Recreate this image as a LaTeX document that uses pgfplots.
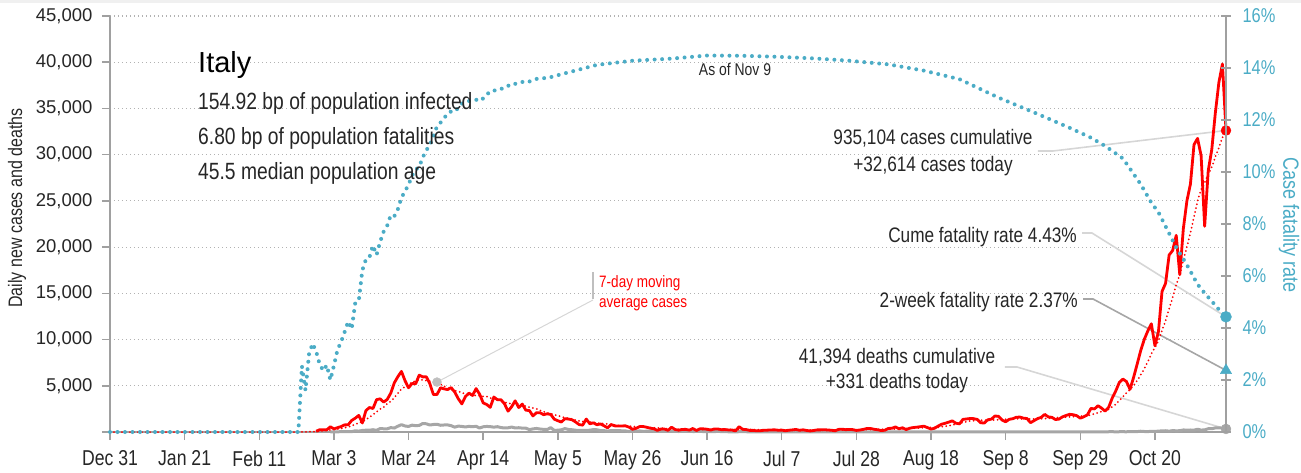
\documentclass[border=0pt]{standalone}
\usepackage{fontspec}
\setmainfont{Liberation Sans}[FakeStretch=0.82]
\newfontfamily\wideface{Liberation Sans}
\usepackage{pgfplots}
\pgfplotsset{compat=1.18}
\definecolor{cfrblue}{HTML}{4BACC6}
\definecolor{axgray}{HTML}{A0A0A0}
\definecolor{dgray}{HTML}{A6A6A6}
\definecolor{lgray}{HTML}{D6D6D6}
\definecolor{txt}{HTML}{262626}
\newcommand{\fs}[1]{\fontsize{#1}{#1}\selectfont}
\begin{document}
\begin{tikzpicture}[x=1pt,y=1pt]
\path[use as bounding box] (-110,-40) rectangle (1191,432);
\fill[black!6] (-110,429) rectangle (1191,432);
\begin{axis}[
  at={(0,0)}, anchor=south west,
  scale only axis, width=1116pt, height=416pt,
  xmin=0, xmax=314, ymin=0, ymax=45000,
  scaled y ticks=false, scaled x ticks=false,
  axis x line*=bottom, axis y line*=left,
  axis line style={-, axgray, line width=2pt},
  xtick={0,21,...,294},
  xticklabels={Dec 31,Jan 21,Feb 11,Mar 3,Mar 24,Apr 14,May 5,May 26,Jun 16,Jul 7,Jul 28,Aug 18,Sep 8,Sep 29,Oct 20},
  ytick={0,5000,...,45000},
  yticklabels={{},{5,000},{10,000},{15,000},{20,000},{25,000},{30,000},{35,000},{40,000},{45,000}},
  tick align=outside,
  major tick length=8pt,
  tick style={axgray, line width=1.5pt},
  ymajorgrids,
  grid style={black!30, line width=1.2pt, dash pattern=on 1.2pt off 2.8pt},
  xticklabel style={font=\fs{21.5}, text=txt, yshift=-7pt},
  yticklabel style={font=\wideface\fs{18.5}, text=txt, xshift=-6pt},
  clip=false,
]
% leader lines
\draw[lgray, line width=1.6pt] (axis cs:261.1,30397) -- (axis cs:265.3,30397) -- (axis cs:314,32614);
\draw[lgray, line width=1.6pt] (axis cs:273.5,21526) -- (axis cs:276.3,21526) -- (axis cs:314,12459);
\draw[dgray, line width=1.6pt] (axis cs:273.8,14387) -- (axis cs:276.6,14387) -- (axis cs:314,6666);
\draw[lgray, line width=1.6pt] (axis cs:251.8,7031) -- (axis cs:255.2,7031) -- (axis cs:314,331);
\draw[lgray, line width=1pt] (axis cs:92,5400) -- (axis cs:135.9,14278);
\draw[black!25, line width=1.5pt] (axis cs:135.9,17310) -- (axis cs:135.9,14387);
% deaths
\addplot[dgray, line width=3pt, line join=round] coordinates {
(62,5)(63,18)(64,27)(65,28)(66,41)(67,49)(68,36)(69,133)(70,97)(71,168)(72,196)(73,189)(74,250)(75,175)(76,368)(77,349)(78,345)(79,475)(80,427)(81,627)(82,793)(83,651)(84,601)(85,743)(86,683)(87,712)(88,919)(89,889)(90,756)(91,812)(92,837)(93,727)(94,760)(95,766)(96,681)(97,525)(98,636)(99,604)(100,542)(101,610)(102,570)(103,619)(104,431)(105,566)(106,602)(107,578)(108,525)(109,575)(110,482)(111,433)(112,454)(113,534)(114,437)(115,464)(116,420)(117,415)(118,260)(119,333)(120,382)(121,323)(122,285)(123,269)(124,474)(125,174)(126,195)(127,236)(128,369)(129,274)(130,243)(131,194)(132,165)(133,179)(134,172)(135,195)(136,262)(137,242)(138,153)(139,145)(140,99)(141,162)(142,161)(143,156)(144,130)(145,119)(146,50)(147,92)(148,78)(149,117)(150,70)(151,87)(152,111)(153,75)
(154,60)(155,55)(156,71)(157,88)(158,85)(159,72)(160,53)(161,65)(162,79)(163,71)(164,53)(165,56)(166,78)(167,44)(168,26)(169,34)(170,43)(171,66)(172,47)(173,49)(174,24)(175,23)(176,18)(177,30)(178,34)(179,30)(180,8)(181,24)(182,6)(183,23)
(190,15)(197,13)(204,15)(211,5)(218,10)(225,6)(232,7)(239,4)(246,8)(253,10)(260,14)(267,20)(274,17)
(276,24)(277,23)(278,27)(279,18)(280,16)(281,28)(282,31)(283,22)(284,28)(285,29)(286,26)(287,39)(288,41)(289,43)(290,83)(291,55)(292,47)(293,69)(294,73)(295,89)(296,127)(297,136)(298,91)(299,151)(300,128)(301,141)(302,221)(303,205)(304,217)(305,199)(306,297)(307,208)(308,233)(309,353)(310,352)(311,445)(312,446)(313,425)(314,331)
};
% 7-day moving average
\addplot[red, line width=2pt, line cap=round, dash pattern=on 0pt off 4pt] coordinates {
(0,0)(52,0)(53,2)(54,11)(55,21)(56,33)(57,46)(58,57)(59,93)(60,124)(61,150)(62,221)(63,258)(64,311)(65,384)(66,458)(67,535)(68,679)(69,812)(70,1019)(71,1092)(72,1339)(73,1608)(74,1861)(75,2182)(76,2482)(77,2687)(78,3051)(79,3322)(80,3703)(81,4194)(82,4632)(83,4913)(84,5135)(85,5381)(86,5525)(87,5643)(88,5640)(89,5556)(90,5507)(91,5402)(92,5231)(93,5170)(94,4958)(95,4761)(96,4594)(97,4466)(98,4401)(99,4256)(100,4121)(101,4055)(102,3964)(103,3948)(104,3916)(105,3853)(106,3843)(107,3676)(108,3616)(109,3551)(110,3379)(111,3230)(112,3102)(113,3067)(114,3167)(115,3005)(116,2937)(117,2775)(118,2672)(119,2598)(120,2507)(121,2323)(122,2213)(123,2062)(124,1997)(125,1863)(126,1789)(127,1644)(128,1552)(129,1485)(130,1394)(131,1277)(132,1193)(133,1125)(134,1172)(135,1092)(136,1034)(137,957)(138,927)(139,909)(140,867)(141,783)(142,751)(143,701)(144,682)(145,652)(146,632)(147,610)(148,551)(149,539)(150,532)(151,513)(152,477)(153,452)(154,434)(155,423)(156,385)(157,326)(158,326)(159,305)(160,283)(167,284)(174,273)(181,260)(188,187)(195,209)(202,197)(209,241)(216,281)(223,357)(230,480)(233,510)(236,672)(239,935)(242,1193)(245,1275)(248,1281)(251,1346)(254,1433)(257,1418)(260,1406)(263,1449)(266,1535)(269,1614)(272,1674)(275,1761)(276,1870)(277,1954)(278,2093)(279,2209)(280,2318)(281,2465)(282,2726)(283,2999)(284,3409)(285,3821)(286,4232)(287,4569)(288,5030)(289,5552)(290,6173)(291,6835)(292,7578)(293,8471)(294,9145)(295,9855)(296,10979)(297,12019)(298,13323)(299,14569)(300,15936)(301,17032)(302,18621)(303,20019)(304,21555)(305,23261)(306,24992)(307,26225)(308,26974)(309,27867)(310,28661)(311,29757)(312,30718)(313,31868)(314,32255)
};
% daily new cases
\addplot[red, line width=2.8pt, line join=round] coordinates {
(58,78)(59,250)(60,238)(61,240)(62,566)(63,342)(64,466)(65,587)(66,769)(67,778)(68,1247)(69,1492)(70,1797)(71,977)(72,2313)(73,2651)(74,2547)(75,3497)(76,3590)(77,3233)(78,3526)(79,4207)(80,5322)(81,5986)(82,6557)(83,5560)(84,4789)(85,5249)(86,5210)(87,6153)(88,5959)(89,5974)(90,5217)(91,4050)(92,4053)(93,4782)(94,4668)(95,4585)(96,4805)(97,4316)(98,3599)(99,3039)(100,3836)(101,4204)(102,3951)(103,4694)(104,4092)(105,3153)(106,2972)(107,2667)(108,3786)(109,3493)(110,3491)(111,3047)(112,2256)(113,2729)(114,3370)(115,2646)(116,3021)(117,2357)(118,2324)(119,1739)(120,2091)(121,2086)(122,1872)(123,1965)(124,1900)(125,1389)(126,1221)(127,1075)(128,1444)(129,1401)(130,1327)(131,1083)(132,802)(133,744)(134,1402)(135,888)(136,992)(137,789)(138,875)(139,675)(140,451)(141,813)(142,665)(143,642)(144,652)(145,669)(146,531)(147,300)(148,397)(149,584)(150,593)(151,516)(152,416)(153,355)(154,178)(155,318)(156,321)(157,177)(158,518)(159,270)(160,197)(161,280)(162,283)(163,202)(164,379)(165,163)(166,346)(167,338)(168,301)(169,210)(170,329)(171,333)(172,251)(173,262)(174,224)(175,218)(176,122)(177,577)(178,296)(179,259)(180,175)(181,174)(182,126)(183,142)(184,187)(185,201)(186,223)(187,235)(188,192)(189,208)(190,138)(191,193)(192,229)(193,276)(194,188)(195,234)(196,169)(197,114)(198,162)(199,230)(200,233)(201,249)(202,219)(203,190)(204,129)(205,282)(206,306)(207,252)(208,275)(209,255)(210,170)(211,212)(212,289)(213,386)(214,379)(215,295)(216,239)(217,159)(218,190)(219,384)(220,402)(221,552)(222,347)(223,463)(224,259)(225,412)(226,481)(227,523)(228,574)(229,629)(230,479)(231,320)(232,403)(233,642)(234,845)(235,947)(236,1071)(237,1210)(238,953)(239,878)(240,1367)(241,1411)(242,1462)(243,1444)(244,1365)(245,996)(246,978)(247,1326)(248,1397)(249,1733)(250,1695)(251,1297)(252,1108)(253,1370)(254,1434)(255,1597)(256,1616)(257,1501)(258,1458)(259,1008)(260,1229)(261,1452)(262,1585)(263,1907)(264,1638)(265,1587)(266,1350)(267,1392)(268,1640)(269,1786)(270,1912)(271,1869)(272,1766)(273,1494)(274,1648)(275,1851)(276,2548)(277,2499)(278,2844)(279,2578)(280,2257)(281,2677)(282,3678)(283,4458)(284,5372)(285,5724)(286,5456)(287,4619)(288,5901)(289,7332)(290,8804)(291,10010)(292,10925)(293,11705)(294,9338)(295,10874)(296,15199)(297,16079)(298,19143)(299,19644)(300,21273)(301,17012)(302,21994)(303,24991)(304,26831)(305,31084)(306,31758)(307,29907)(308,22253)(309,28244)(310,30550)(311,34505)(312,37809)(313,39811)(314,32614)
};
\addplot[only marks, mark=*, mark size=5pt, red] coordinates {(314,32614)};
\addplot[only marks, mark=*, mark size=5pt, dgray] coordinates {(314,331)};
\addplot[only marks, mark=*, mark size=4.5pt, black!25] coordinates {(92,5400)};
\end{axis}
\begin{axis}[
  at={(0,0)}, anchor=south west,
  scale only axis, width=1116pt, height=416pt,
  xmin=0, xmax=314, ymin=0, ymax=16,
  scaled y ticks=false,
  axis x line=none, axis y line*=right,
  axis line style={-, axgray, line width=2pt},
  ytick={0,2,...,16},
  yticklabels={{0\%},{2\%},{4\%},{6\%},{8\%},{10\%},{12\%},{14\%},{16\%}},
  tick align=center, major tick length=10pt,
  tick style={axgray, line width=1.5pt},
  yticklabel style={font=\fs{20}, text=cfrblue, xshift=8pt},
  clip=false,
]
\addplot[cfrblue, line width=4pt, line cap=round, dash pattern=on 0pt off 7.5pt] coordinates {
(0,0)(53,0)(54,2.53)(55,1.6)(56,3.0)(57,3.4)(58,3.1)(59,2.6)(60,2.36)(61,2.57)(62,2.0)(63,2.55)(64,3.16)(65,3.46)(66,3.84)(67,4.25)(68,3.96)(69,4.96)(70,5.05)(71,6.22)(72,6.64)(73,6.72)(74,7.17)(75,6.81)(76,7.31)(77,7.71)(78,7.94)(79,8.34)(80,8.30)(81,8.57)(82,9.01)(83,9.26)(84,9.51)(85,9.86)(86,10.09)(87,10.20)(88,10.56)(89,10.84)(90,11.03)(91,11.39)(92,11.75)(93,11.90)(94,12.07)(95,12.25)(96,12.33)(97,12.32)(98,12.47)(99,12.63)(100,12.67)(101,12.73)(102,12.77)(103,12.78)(104,12.73)(105,12.83)(106,12.97)(107,13.11)(108,13.12)(109,13.19)(110,13.20)(111,13.22)(112,13.31)(113,13.40)(114,13.39)(115,13.45)(116,13.46)(117,13.51)(118,13.48)(119,13.53)(120,13.58)(121,13.60)(122,13.61)(123,13.61)(127,13.76)(137,14.12)(147,14.28)(158,14.36)(168,14.48)(178,14.47)(188,14.43)(198,14.37)(208,14.28)(219,14.14)(229,13.90)(239,13.57)(250,12.86)(260,12.29)(270,11.70)(276,11.32)(280,11.00)(285,10.52)(290,9.53)(293,8.82)(295,8.45)(298,7.64)(300,7.10)(303,6.43)(306,5.68)(308,5.34)(310,5.03)(312,4.71)(314,4.43)
};
\addplot[only marks, mark=*, mark size=5.5pt, cfrblue] coordinates {(314,4.43)};
\addplot[only marks, mark=triangle*, mark size=6.5pt, cfrblue] coordinates {(314,2.37)};
\end{axis}
% axis titles
\node[rotate=90, font=\fs{19.5}, text=txt] at (-93,224) {Daily new cases and deaths};
\node[rotate=-90, font=\fs{22}, text=cfrblue] at (1179,207) {Case fatality rate};
% text block
\node[anchor=base west, inner sep=0, font=\wideface\fs{29}, text=black] at (88,359) {Italy};
\node[anchor=base west, inner sep=0, font=\fs{23.5}, text=txt] at (88,322) {154.92 bp of population infected};
\node[anchor=base west, inner sep=0, font=\fs{23.5}, text=txt] at (88,287) {6.80 bp of population fatalities};
\node[anchor=base west, inner sep=0, font=\fs{23.5}, text=txt] at (88,252) {45.5 median population age};
% annotations
\node[anchor=base, inner sep=0, font=\fs{17}, text=txt] at (625,356) {As of Nov 9};
\node[anchor=base, inner sep=0, font=\fs{21}, text=txt] at (823,287) {935,104 cases cumulative};
\node[anchor=base, inner sep=0, font=\fs{21}, text=txt] at (823,260) {+32,614 cases today};
\node[anchor=base east, inner sep=0, font=\fs{21}, text=txt] at (967,190) {Cume fatality rate 4.43\%};
\node[anchor=base east, inner sep=0, font=\fs{21}, text=txt] at (968,125) {2-week fatality rate 2.37\%};
\node[anchor=base, inner sep=0, font=\fs{21}, text=txt] at (787,69) {41,394 deaths cumulative};
\node[anchor=base, inner sep=0, font=\fs{21}, text=txt] at (787,44) {+331 deaths today};
\node[anchor=base west, inner sep=0, font=\fs{16.5}, text=red] at (489,145) {7-day moving};
\node[anchor=base west, inner sep=0, font=\fs{16.5}, text=red] at (489,125) {average cases};
\end{tikzpicture}
\end{document}
